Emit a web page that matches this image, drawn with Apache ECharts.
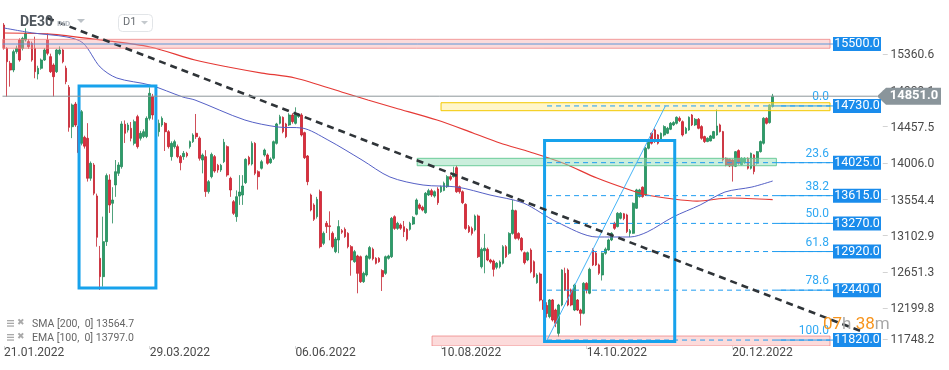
<!DOCTYPE html>
<html><head><meta charset="utf-8">
<script src="https://cdn.jsdelivr.net/npm/echarts@6/dist/echarts.min.js"></script>
<style>html,body{margin:0;padding:0;background:#fff}#c{width:949px;height:370px}</style>
</head><body><div id="c"></div>
<script>
// ---------- data ----------
const barCount = 267;               // category slots (incl. empty future slots)
const tickEvery = 47;
const tickLabels = ['21.01.2022','29.03.2022','06.06.2022','10.08.2022','14.10.2022','20.12.2022'];
const yTicks = [11748.2,12199.8,12651.3,13102.9,13554.4,14006.0,14457.5,14909.1,15360.6];

// [open, close, low, high]
const candles = [
[15736,15446,15430,15760],[15446,15280,14846,15460],[15260,15177,14970,15290],[15177,15405,15150,15430],[15405,15446,15380,15480],
[15550,15301,15280,15570],[15446,15570,15420,15590],[15550,15633,15530,15695],[15530,15467,15440,15560],[15508,15301,15280,15530],
[15446,15156,15074,15591],[15127,15198,15060,15230],[15198,15301,15180,15320],[15301,15426,15290,15450],[15550,15384,15360,15630],
[15343,15156,15140,15380],[15239,15094,14846,15260],[15156,15426,15140,15440],[15380,15426,15360,15470],[15426,15280,15260,15440],
[15200,15032,15000,15230],[14962,14464,14410,14990],[14472,14742,14330,14760],[14754,14493,14470,14780],[14480,14150,13810,14560],
[14265,14659,14240,14680],[14340,14230,14200,14360],[14328,13831,13790,14516],[13831,14017,13800,14040],[13996,13644,13620,14020],
[13611,13097,12981,13640],[12836,12608,12443,12990],[12608,13043,12484,13354],[13043,13864,12990,13890],[13810,13499,13400,13880],
[13520,13561,13270,13720],[13748,13913,13600,14058],[13893,13996,13860,14030],[13975,14506,13950,14540],[14502,14390,14270,14550],
[14430,14493,14400,14520],[14452,14328,14290,14530],[14265,14535,14240,14560],[14597,14224,14200,14620],[14328,14390,14300,14420],
[14350,14410,14330,14440],[14350,14576,14330,14600],[14576,14887,14550,14962],[14846,14618,14560,14880],[14600,14440,14400,14640],
[14410,14514,14350,14560],[14493,14576,14470,14600],[14514,14410,14170,14530],[14410,14224,14200,14430],[14100,14265,14050,14290],
[14224,14286,14200,14310],[14224,14100,14080,14250],[14100,14025,13930,14120],[14100,14141,14060,14170],[14141,14110,14090,14160],
[14224,14286,14200,14300],[14286,14369,14270,14390],[14390,14348,14320,14630],[14330,14079,14050,14350],[14058,14120,13892,14140],
[14100,13665,13600,14180],[13665,13789,13640,13810],[13851,14128,13830,14150],[14100,13921,13900,14120],[13992,13934,13900,14010],
[13934,13992,13910,14010],[14037,14278,14020,14320],[14224,13872,13850,14240],[13830,13685,13600,13850],[13540,13395,13375,13560],
[13354,13602,13290,13680],[13610,13660,13500,13870],[13623,13735,13500,13870],[13776,14066,13760,14080],[14091,14008,13990,14110],
[14008,14265,13990,14290],[14265,13892,13870,14280],[13913,13851,13690,13930],[13955,14037,13940,14060],[14120,14182,14100,14200],
[14120,14017,14000,14140],[14025,14070,14010,14090],[14079,14286,14060,14300],[14265,14506,14250,14520],[14514,14597,14500,14620],
[14588,14410,14390,14600],[14506,14348,14330,14520],[14493,14617,14480,14640],[14617,14535,14510,14640],[14514,14638,14500,14713],
[14600,14617,14580,14640],[14617,14369,14350,14640],[14398,14087,14070,14410],[14108,13789,13745,14120],[13623,13437,13420,13640],
[13499,13321,13300,13520],[13354,13569,13330,13600],[13665,12981,12960,13690],[13022,13147,13000,13170],[13271,13230,13150,13300],
[13240,13230,13060,13420],[13147,12981,12960,13170],[12919,13076,12900,13100],[13064,13230,12900,13310],[13180,13160,13140,13200],
[13197,13105,13090,13220],[13147,12981,12960,13160],[12981,12815,12620,13000],[12794,12919,12780,12940],[12865,12649,12401,12880],
[12856,12546,12530,12870],[12546,12649,12530,12670],[12629,12865,12610,12880],[12836,12969,12820,12990],[12950,12830,12810,12970],
[12836,12774,12760,12850],[12836,12794,12780,12850],[12683,12608,12430,12700],[12649,12856,12630,12870],[12836,12865,12820,12880],
[12856,13333,12840,13350],[13353,13208,13190,13370],[13208,13271,13190,13290],[13250,13210,13190,13270],[13229,13167,13100,13300],
[13196,13072,13050,13210],[13196,13271,13180,13290],[13262,13345,13250,13360],[13383,13561,13370,13580],[13500,13458,13440,13520],
[13470,13436,13420,13490],[13403,13644,13390,13660],[13623,13677,13610,13700],[13677,13623,13600,13700],[13610,13664,13590,13680],
[13697,13528,13500,13720],[13664,13726,13650,13740],[13680,13770,13670,13790],[13726,13851,13710,13870],[13851,13820,13800,13870],
[13851,13892,13840,13975],[13962,13664,13650,13990],[13726,13664,13640,13740],[13664,13528,13510,13680],[13507,13208,13190,13520],
[13229,13167,13150,13250],[13208,13146,13120,13230],[13188,13362,13170,13380],[13362,12856,12840,13380],[12732,12948,12710,12970],
[12930,12960,12650,13140],[12948,12815,12800,12970],[12815,12790,12770,12830],[12802,12699,12610,12820],[12724,12774,12700,12790],
[12730,12790,12710,12810],[12774,12981,12760,13000],[12981,12856,12840,13000],[12898,13146,12880,13160],[13146,13436,13130,13561],
[13428,13084,13070,13440],[13146,13084,13060,13160],[13084,12940,12920,13100],[12906,12782,12760,12920],[12815,12906,12800,12920],
[12939,12670,12650,12960],[12794,12608,12590,12810],[12533,12629,12520,12650],[12641,12318,12300,12660],[12318,12200,12180,12330],
[12250,12150,12100,12290],[12111,12318,12090,12330],[12318,12069,12050,12330],[12193,12028,11980,12210],[11903,12256,11860,12270],
[12256,12691,12240,12700],[12649,12442,12430,12720],[12691,12256,12240,12710],[12442,12256,12240,12460],[12193,12504,12180,12520],
[12318,12193,12180,12330],[12193,12152,12000,12210],[12152,12525,12140,12540],[12525,12442,12400,12540],[12402,12700,12390,12720],
[12940,12754,12740,12960],[12900,12754,12740,12920],[12754,12650,12630,12770],[12629,12899,12560,12910],[12899,12950,12880,12970],
[12940,13064,12930,13080],[13064,13147,13050,13160],[13271,13209,13190,13290],[13230,13396,13220,13410],[13333,13396,13320,13410],
[13390,13330,13310,13400],[13375,13168,13150,13390],[13147,13180,13100,13200],[13147,13520,13140,13530],[13458,13686,13450,13700],
[13603,13686,13590,13700],[13720,13603,13590,13730],[13624,14204,13610,14220],[14204,14307,14190,14320],[14390,14266,14250,14400],
[14432,14287,14270,14450],[14370,14266,14250,14380],[14307,14390,14290,14400],[14369,14473,14350,14490],[14390,14452,14380,14470],
[14440,14514,14430,14530],[14494,14523,14480,14540],[14514,14589,14500,14600],[14577,14548,14530,14600],[14535,14369,14350,14550],
[14390,14452,14380,14470],[14432,14589,14420,14600],[14618,14494,14480,14630],[14494,14564,14480,14580],[14564,14452,14440,14580],
[14473,14328,14310,14490],[14349,14287,14270,14360],[14287,14328,14280,14340],[14295,14357,14290,14370],[14328,14411,14320,14420],
[14369,14481,14360,14688],[14494,14411,14400,14510],[14411,14059,14040,14420],[14080,13996,13980,14090],[14067,13984,13970,14080],
[14059,13984,13790,14070],[13980,14162,13970,14170],[14175,14017,14000,14190],[14000,14080,13990,14090],[14027,14080,14010,14090],
[14080,13955,13940,14090],[13955,14142,13940,14150],[14121,13914,13880,14130],[14017,14162,14000,14170],[14162,14287,14150,14300],
[14266,14577,14250,14590],[14577,14514,14500,14590],[14523,14742,14510,14750],[14722,14851,14710,14880]
];

// moving averages: [barIndex, value]
const sma200 = [[0,15637],[14.8,15624],[31,15550],[47.1,15463],[61.6,15301],[72.3,15214],[83.2,15139],[93.9,15077],
  [110,14891],[117.4,14804],[126.2,14705],[139.7,14555],[151.3,14394],[160,14269],[169.7,14158],[180.3,14021],
  [191.3,13834],[202,13685],[207.5,13623],[215.9,13573],[223.6,13548],[234.3,13586],[248,13565]];
const ema100 = [[0,15699],[9.3,15637],[20.3,15587],[25.5,15512],[31,15214],[36.4,15077],[47.1,14990],[57.7,14841],
  [61.6,14804],[77.7,14555],[88.4,14468],[96.1,14456],[104.5,14307],[115.5,14058],[124.5,13847],[135.2,13747],
  [146.2,13722],[156.8,13623],[167.5,13524],[178.4,13287],[191.3,13101],[202,13101],[207.5,13163],[215.9,13350],
  [224.6,13499],[232.6,13660],[241.3,13722],[248,13797]];
const legendValues = [13564.7, 13797.0];

// drawings (bar index / price)
const trendLine = [[13.9,15823],[277.2,11920]];
const fibDiagonal = [[175.2,11820],[213.4,14730]];
const fibStart = 175.2;
const fibLevels = [[0.0,14730],[23.6,14025],[38.2,13615],[50.0,13270],[61.8,12920],[78.6,12440],[100.0,11820]];
const levelTags = [15500,14730,14025,13615,13270,12920,12440,11820];
const currentPrice = 14851.0;
const pinkZones = [[-0.5,266.5,15447,15558],[138.1,266.5,11746,11870]];
const yellowZones = [[141,266.5,14671,14770]];
const greenZones = [[133.3,249.2,13987,14079]];
const boxes = [[24.2,49,12467,14978],[174.4,216.4,11802,14300]];
const countdown = ['07','38'];

// ---------- chart ----------
const LEFT_I = -0.5, RIGHT_I = barCount - 0.5;
const categories = Array.from({length: barCount}, (_, i) => String(i));
const chart = echarts.init(document.getElementById('c'), null, {renderer: 'canvas'});
const FONT = 'Roboto, "Noto Sans", sans-serif';

function zoneSeries(data, fill, stroke) {
  return {
    type: 'custom', xAxisIndex: 1, yAxisIndex: 0, clip: true, z: 6, silent: true,
    data: data,
    renderItem(params, api) {
      const a = api.coord([api.value(0), api.value(3)]);
      const b = api.coord([api.value(1), api.value(2)]);
      return {type: 'rect', shape: {x: a[0], y: a[1], width: b[0] - a[0], height: b[1] - a[1]},
        style: {fill: fill, stroke: stroke, lineWidth: 1}};
    }
  };
}

const option = {
  animation: false,
  backgroundColor: '#fff',
  grid: {left: 2.5, right: 119, top: 0, bottom: 24, containLabel: false},
  xAxis: [
    {
      type: 'category', data: categories, boundaryGap: true,
      axisLine: {show: false},
      axisTick: {show: true, interval: tickEvery - 1, alignWithLabel: true, length: 3, lineStyle: {color: '#d8d8d8'}},
      axisLabel: {
        interval: tickEvery - 1, align: 'left', margin: 1, color: '#4a4a4a', fontSize: 12, fontFamily: FONT,
        formatter: v => { const i = +v; return i % tickEvery === 0 ? (tickLabels[i / tickEvery] || '') : ''; }
      },
      splitLine: {show: false}
    },
    {type: 'value', min: LEFT_I, max: RIGHT_I, show: false}
  ],
  yAxis: {
    type: 'value', position: 'right', min: 11746, max: 16047, show: false,
    axisLine: {show: false}, splitLine: {show: false}, axisTick: {show: false}, axisLabel: {show: false}
  },
  series: [
    {
      type: 'candlestick', xAxisIndex: 0, yAxisIndex: 0, data: candles, barWidth: 2.2, z: 2,
      itemStyle: {color: '#2b9d69', color0: '#dc2d3d', borderColor: '#238a5a', borderColor0: '#c4222f', borderWidth: 0.8}
    },
    {type: 'line', xAxisIndex: 1, data: sma200, smooth: 0.3, symbol: 'none', z: 3,
      lineStyle: {color: '#e53935', width: 1.2}},
    {type: 'line', xAxisIndex: 1, data: ema100, smooth: 0.3, symbol: 'none', z: 3,
      lineStyle: {color: '#5560c6', width: 1}},
    zoneSeries(pinkZones, 'rgba(246,160,160,0.38)', 'rgba(238,130,130,0.75)'),
    zoneSeries(yellowZones, 'rgba(255,236,140,0.45)', '#f3c800'),
    zoneSeries(greenZones, 'rgba(150,222,185,0.5)', 'rgba(95,200,145,0.9)'),
    // price scale labels (with small leading tick dash) placed through the y scale
    {
      type: 'custom', xAxisIndex: 1, yAxisIndex: 0, clip: false, z: 5, silent: true,
      data: yTicks.map((v, k) => [RIGHT_I, v, k]),
      renderItem(params, api) {
        const p = api.coord([api.value(0), api.value(1)]);
        const ty = api.value(2) === 0 ? p[1] - 5.5 : p[1];
        return {type: 'text', style: {x: p[0] + 52, y: ty,
          text: '{t|–}{v|' + api.value(1).toFixed(1) + '}',
          rich: {t: {fill: '#cccccc', font: '10px ' + FONT, padding: [0, 2, 0, 0]}, v: {fill: '#4a4a4a', font: '12px ' + FONT}},
          align: 'left', verticalAlign: 'middle'}};
      }
    },
    // fib level dashed lines
    {
      type: 'custom', xAxisIndex: 1, yAxisIndex: 0, clip: true, z: 7, silent: true,
      data: fibLevels.map(f => [fibStart, f[1], f[0]]),
      renderItem(params, api) {
        const a = api.coord([api.value(0), api.value(1)]);
        const b = api.coord([RIGHT_I, api.value(1)]);
        return {type: 'line', shape: {x1: a[0], y1: a[1], x2: b[0], y2: b[1]},
          style: {stroke: '#1e9cf0', lineWidth: 1, lineDash: [5, 4]}};
      }
    },
    // fib percentage labels
    {
      type: 'custom', xAxisIndex: 1, yAxisIndex: 0, clip: false, z: 9, silent: true,
      data: fibLevels.map(f => [RIGHT_I, f[1], f[0]]),
      renderItem(params, api) {
        const p = api.coord([api.value(0), api.value(1)]);
        return {type: 'text', style: {x: p[0] - 1, y: p[1] - 9, text: api.value(2).toFixed(1), fill: '#2fa8f3',
          font: '12px ' + FONT, align: 'right', verticalAlign: 'middle'}};
      }
    },
    {type: 'line', xAxisIndex: 1, data: fibDiagonal, symbol: 'none', z: 7, lineStyle: {color: '#45b4f7', width: 1}},
    // blue boxes
    {
      type: 'custom', xAxisIndex: 1, yAxisIndex: 0, clip: false, z: 8, silent: true,
      data: boxes,
      renderItem(params, api) {
        const a = api.coord([api.value(0), api.value(3)]);
        const b = api.coord([api.value(1), api.value(2)]);
        return {type: 'rect', shape: {x: a[0], y: a[1], width: b[0] - a[0], height: b[1] - a[1]},
          style: {fill: 'none', stroke: '#17a2ec', lineWidth: 3}};
      }
    },
    // trend line (drawn through the scales, allowed to run past the plot edge)
    {
      type: 'custom', xAxisIndex: 1, yAxisIndex: 0, clip: false, z: 10, silent: true,
      data: [[trendLine[0][0], trendLine[0][1], trendLine[1][0], trendLine[1][1]]],
      renderItem(params, api) {
        const a = api.coord([api.value(0), api.value(1)]);
        const b = api.coord([api.value(2), api.value(3)]);
        return {type: 'line', shape: {x1: a[0], y1: a[1], x2: b[0], y2: b[1]},
          style: {stroke: '#2f3438', lineWidth: 2.6, lineDash: [7, 5]}};
      }
    },
    // current price line + tag
    {
      type: 'custom', xAxisIndex: 1, yAxisIndex: 0, clip: false, z: 12, silent: true,
      data: [[LEFT_I, currentPrice]],
      renderItem(params, api) {
        const a = api.coord([api.value(0), api.value(1)]);
        const r = api.coord([RIGHT_I, api.value(1)]);
        const tip = r[0] + 47, y = a[1];
        return {type: 'group', children: [
          {type: 'line', shape: {x1: a[0], y1: y, x2: tip, y2: y}, style: {stroke: '#8e979b', lineWidth: 1}},
          {type: 'polygon', shape: {points: [[tip, y], [tip + 9, y - 8.5], [tip + 64, y - 8.5], [tip + 64, y + 8.5], [tip + 9, y + 8.5]]},
            style: {fill: '#8a959b'}},
          {type: 'text', style: {x: tip + 37, y: y, text: api.value(1).toFixed(1), fill: '#fff',
            font: 'bold 13px ' + FONT, align: 'center', verticalAlign: 'middle'}}
        ]};
      }
    },
    // level tags
    {
      type: 'custom', xAxisIndex: 1, yAxisIndex: 0, clip: false, z: 12, silent: true,
      data: levelTags.map((v, k) => [RIGHT_I, v, k]),
      renderItem(params, api) {
        const r = api.coord([api.value(0), api.value(1)]);
        const startI = api.value(2) === 0 ? LEFT_I : 249.4;
        const s = api.coord([startI, api.value(1)]);
        const x = r[0] + 3, y = r[1];
        return {type: 'group', children: [
          {type: 'line', shape: {x1: s[0], y1: y, x2: x, y2: y}, style: {stroke: api.value(2) === 0 ? '#5c97d8' : '#1e9cf0', lineWidth: 1}},
          {type: 'rect', shape: {x: x, y: y - 7, width: 48, height: 14}, style: {fill: '#1a8cec'}},
          {type: 'text', style: {x: x + 24, y: y, text: api.value(1).toFixed(1), fill: '#fff',
            font: '12.5px ' + FONT, align: 'center', verticalAlign: 'middle'}}
        ]};
      }
    }
  ],
  graphic: [
    {type: 'text', left: 20, top: 15, z: 50, style: {text: 'DE30', font: 'bold 14px ' + FONT, fill: '#50575e'}},
    {type: 'text', left: 57, top: 20, z: 50, style: {text: 'IND', font: 'bold 8px ' + FONT, fill: '#b3b9c0'}},
    {type: 'polygon', z: 50, shape: {points: [[77, 19], [85, 19], [81, 23]]}, style: {fill: '#bcc2c7'}},
    {type: 'rect', z: 50, shape: {x: 118.5, y: 14.5, width: 34, height: 17, r: 4}, style: {fill: '#fff', stroke: '#e2e5e8'}},
    {type: 'text', left: 123, top: 17, z: 51, style: {text: 'D1', font: '11px ' + FONT, fill: '#6a6f74'}},
    {type: 'polygon', z: 51, shape: {points: [[141, 21], [148, 21], [144.5, 24.5]]}, style: {fill: '#c4c9cd'}},
    // legend rows
    {type: 'group', left: 7, top: 318, z: 50, children: [
      {type: 'rect', shape: {x: 0, y: 0, width: 7, height: 1.3}, style: {fill: '#a9a9a9'}},
      {type: 'rect', shape: {x: 0, y: 2.7, width: 7, height: 1.3}, style: {fill: '#a9a9a9'}},
      {type: 'rect', shape: {x: 0, y: 5.4, width: 7, height: 1.3}, style: {fill: '#a9a9a9'}},
      {type: 'text', x: 10, y: -2, style: {text: '✖', font: 'bold 9px "DejaVu Sans"', fill: '#a9a9a9'}},
      {type: 'text', x: 25, y: -1.5, style: {text: 'SMA [200,  0] ' + legendValues[0].toFixed(1), font: '10.5px ' + FONT, fill: '#666'}}
    ]},
    {type: 'group', left: 7, top: 332, z: 50, children: [
      {type: 'rect', shape: {x: 0, y: 0, width: 7, height: 1.3}, style: {fill: '#a9a9a9'}},
      {type: 'rect', shape: {x: 0, y: 2.7, width: 7, height: 1.3}, style: {fill: '#a9a9a9'}},
      {type: 'rect', shape: {x: 0, y: 5.4, width: 7, height: 1.3}, style: {fill: '#a9a9a9'}},
      {type: 'text', x: 10, y: -2, style: {text: '✖', font: 'bold 9px "DejaVu Sans"', fill: '#a9a9a9'}},
      {type: 'text', x: 25, y: -1.5, style: {text: 'EMA [100,  0] ' + legendValues[1].toFixed(1), font: '10.5px ' + FONT, fill: '#666'}}
    ]},
    {type: 'text', left: 823, top: 316, z: 60, style: {
      text: '{o|' + countdown[0] + '}{g|h }{o|' + countdown[1] + '}{g|m}',
      rich: {o: {fill: '#f7941d', font: '17px ' + FONT}, g: {fill: '#a8a8a8', font: '17px ' + FONT}}
    }}
  ]
};
chart.setOption(option);
</script>
</body></html>
